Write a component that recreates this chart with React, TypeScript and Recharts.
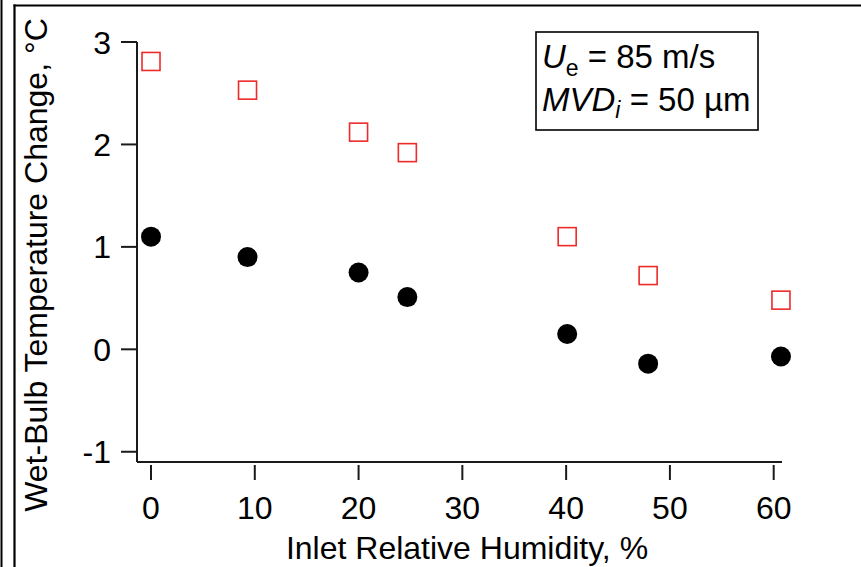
import React from "react";
import { ScatterChart, Scatter, XAxis, YAxis } from "recharts";

const humidity = [0, 9.3, 20, 24.7, 40.1, 47.9, 60.7];
const squareValues = [2.81, 2.53, 2.12, 1.92, 1.1, 0.72, 0.48];
const circleValues = [1.1, 0.9, 0.75, 0.51, 0.15, -0.14, -0.07];
const xTicks = [0, 10, 20, 30, 40, 50, 60];
const yTicks = [-1, 0, 1, 2, 3];

const squareData = humidity.map((x, i) => ({ x, y: squareValues[i] }));
const circleData = humidity.map((x, i) => ({ x, y: circleValues[i] }));

const FONT = '"Liberation Sans", Arial, Helvetica, sans-serif';
const AXIS = "#1a1a1a";

const XTick = (props: any) => {
  const { x, y, payload } = props;
  return (
    <g>
      <line x1={x} x2={x} y1={y + 3} y2={y + 18} stroke={AXIS} strokeWidth={2} />
      <text x={x} y={y + 57} textAnchor="middle" fontSize={32} fontFamily={FONT} fill="#000">
        {payload.value}
      </text>
    </g>
  );
};

const YTick = (props: any) => {
  const { x, y, payload } = props;
  return (
    <g>
      <line x1={x - 16} x2={x} y1={y} y2={y} stroke={AXIS} strokeWidth={2} />
      <text x={x - 26} y={y} dy="0.36em" textAnchor="end" fontSize={32} fontFamily={FONT} fill="#000">
        {payload.value}
      </text>
    </g>
  );
};

const SquareShape = (props: any) => {
  const { cx, cy } = props;
  if (cx == null || cy == null) return null;
  return <rect x={cx - 9} y={cy - 9} width={18} height={18} fill="none" stroke="#ee2a2a" strokeWidth={1.6} />;
};

const CircleShape = (props: any) => {
  const { cx, cy } = props;
  if (cx == null || cy == null) return null;
  return <circle cx={cx} cy={cy} r={10} fill="#000" />;
};

export default function App() {
  return (
    <div style={{ position: "fixed", left: 0, top: 0, width: 861, height: 567, background: "#fff" }}>
      <ScatterChart width={861} height={567} margin={{ top: 42, right: 79, bottom: 0, left: 0 }}>
        <XAxis
          type="number"
          dataKey="x"
          domain={[-1.35, 60.8]}
          ticks={xTicks}
          height={105}
          tickSize={0}
          tickMargin={0}
          tickLine={false}
          axisLine={{ stroke: AXIS, strokeWidth: 2 }}
          tick={<XTick />}
          interval={0}
        />
        <YAxis
          type="number"
          dataKey="y"
          domain={[-1.1, 3]}
          ticks={yTicks}
          width={137}
          tickSize={0}
          tickMargin={0}
          tickLine={false}
          axisLine={{ stroke: AXIS, strokeWidth: 2 }}
          tick={<YTick />}
          interval={0}
        />
        <Scatter data={squareData} shape={<SquareShape />} isAnimationActive={false} />
        <Scatter data={circleData} shape={<CircleShape />} isAnimationActive={false} />
      </ScatterChart>
      <svg
        width={861}
        height={567}
        style={{ position: "absolute", left: 0, top: 0, pointerEvents: "none" }}
      >
        <line x1={1.5} x2={1.5} y1={0} y2={567} stroke="#000" strokeWidth={2} />
        <line x1={14.5} x2={14.5} y1={4.5} y2={567} stroke="#000" strokeWidth={2.2} />
        <line x1={13.5} x2={861} y1={5.5} y2={5.5} stroke="#000" strokeWidth={2.2} />
        <text
          x={47}
          y={265}
          transform="rotate(-90, 47, 265)"
          textAnchor="middle"
          fontSize={32}
          fontFamily={FONT}
          fill="#000"
        >
          Wet-Bulb Temperature Change, °C
        </text>
        <text x={467} y={559} textAnchor="middle" fontSize={32} fontFamily={FONT} fill="#000">
          Inlet Relative Humidity, %
        </text>
        <rect x={536} y={32} width={222} height={98} fill="#fff" stroke="#000" strokeWidth={1.6} />
        <text x={542} y={68} fontSize={33} fontFamily={FONT} fill="#000">
          <tspan fontStyle="italic">U</tspan>
          <tspan fontSize={23} dy={8}>e</tspan>
          <tspan dy={-8}> = 85 m/s</tspan>
        </text>
        <text x={542} y={111} fontSize={33} fontFamily={FONT} fill="#000">
          <tspan fontStyle="italic">MVD</tspan>
          <tspan fontStyle="italic" fontSize={23} dy={7}>i</tspan>
          <tspan dy={-7}> = 50 µm</tspan>
        </text>
      </svg>
    </div>
  );
}
